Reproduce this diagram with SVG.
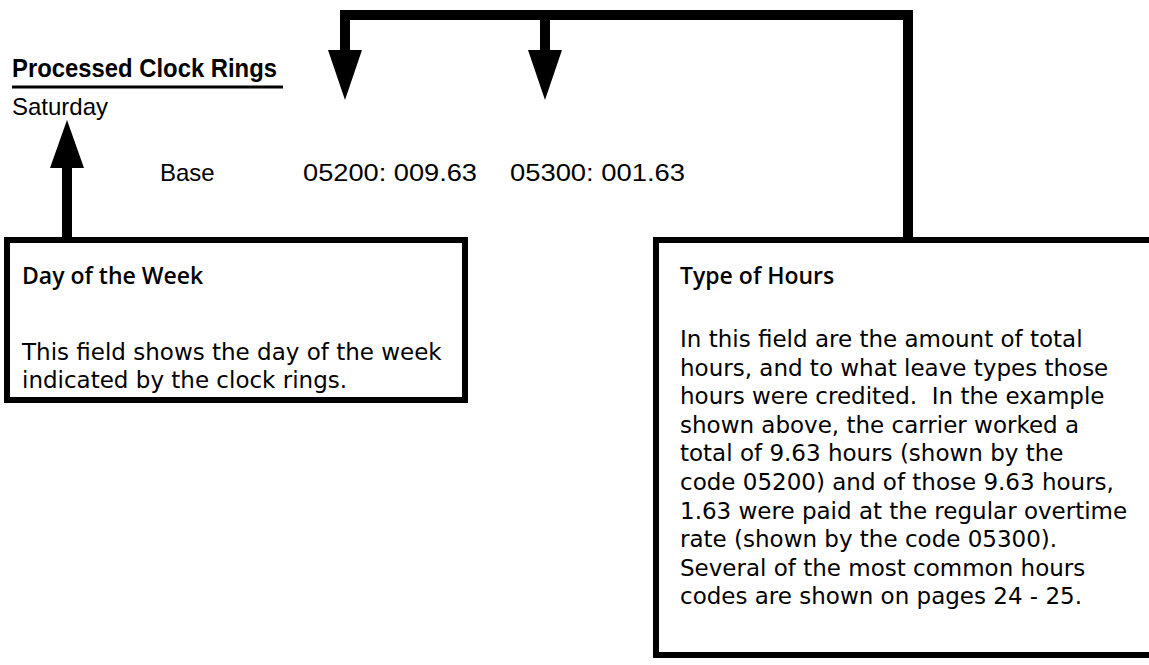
<svg xmlns="http://www.w3.org/2000/svg" width="1149" height="665" viewBox="0 0 1149 665">
  <style>
    .bg { fill: #ffffff; }
    .box { fill: none; stroke: #000; stroke-width: 6; }
    .wire { fill: none; stroke: #000; stroke-width: 10; stroke-linecap: butt; stroke-linejoin: miter; }
    .head { fill: #000; }
    .title { font-family: "Liberation Sans", Arial, sans-serif; font-weight: bold; font-size: 25px; fill: #000; }
    .plain { font-family: "Liberation Sans", Arial, sans-serif; font-size: 24px; fill: #000; }
    .hdr { font-family: "Open Sans", "Noto Sans", sans-serif; font-weight: 600; font-size: 23px; fill: #000; }
    .body { font-family: "DejaVu Sans", "Noto Sans", sans-serif; font-size: 23px; fill: #000; }
  </style>
  <rect class="bg" x="0" y="0" width="1149" height="665"/>

  <!-- record header -->
  <g id="record">
    <text class="title" x="12" y="77" textLength="265" lengthAdjust="spacingAndGlyphs">Processed Clock Rings</text>
    <line x1="12" y1="87" x2="283" y2="87" stroke="#000" stroke-width="3"/>
    <text class="plain" x="12" y="115">Saturday</text>
    <text class="plain" x="160" y="181">Base</text>
    <text class="plain" x="303" y="181" textLength="174" lengthAdjust="spacingAndGlyphs">05200: 009.63</text>
    <text class="plain" x="510" y="181" textLength="175" lengthAdjust="spacingAndGlyphs">05300: 001.63</text>
  </g>

  <!-- connectors -->
  <g id="connectors">
    <!-- day of week pointer -->
    <path class="wire" d="M67 240 V165"/>
    <polygon class="head" points="50,168 84,168 67,120"/>
    <!-- hours bracket -->
    <path class="wire" d="M908 240 V15 H345 V52"/>
    <polygon class="head" points="328,50 362,50 345,100"/>
    <path class="wire" d="M545 15 V52"/>
    <polygon class="head" points="528,50 562,50 545,100"/>
  </g>

  <g id="day-of-week">
    <rect class="box" x="7" y="240" width="458" height="160"/>
    <text class="hdr" x="22" y="284">Day of the Week</text>
    <text class="body" x="22" y="360">This field shows the day of the week</text>
    <text class="body" x="22" y="388">indicated by the clock rings.</text>
  </g>

  <g id="type-of-hours">
    <path class="box" d="M1152 240 H656 V655 H1152"/>
    <text class="hdr" x="680" y="284">Type of Hours</text>
    <text class="body" x="680" y="347">In this field are the amount of total</text>
    <text class="body" x="680" y="375.6">hours, and to what leave types those</text>
    <text class="body" x="680" y="404.2" xml:space="preserve">hours were credited.  In the example</text>
    <text class="body" x="680" y="432.8">shown above, the carrier worked a</text>
    <text class="body" x="680" y="461.4">total of 9.63 hours (shown by the</text>
    <text class="body" x="680" y="490">code 05200) and of those 9.63 hours,</text>
    <text class="body" x="680" y="518.6">1.63 were paid at the regular overtime</text>
    <text class="body" x="680" y="547.2">rate (shown by the code 05300).</text>
    <text class="body" x="680" y="575.8">Several of the most common hours</text>
    <text class="body" x="680" y="604.4">codes are shown on pages 24 - 25.</text>
  </g>
</svg>
